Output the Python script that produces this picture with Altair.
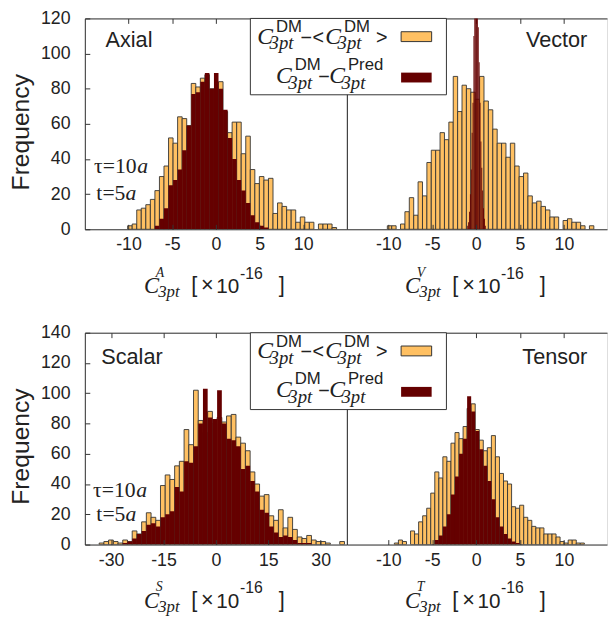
import altair as alt
import pandas as pd

# ---------------- data ----------------
# Axial
axial_orange_start, axial_orange_width = -10.1, 0.52
axial_orange = [2, 3, 11, 12, 14, 17, 22, 30, 36, 52, 49, 64, 63, 59, 83, 81, 86, 88, 80, 79,
                84, 67, 55, 61, 61, 43, 53, 34, 26, 30, 28, 29, 9, 15, 13, 11, 11, 4, 7, 4,
                4, 0, 3, 3, 3, 1]
axial_maroon_start, axial_maroon_width = -6.98, 0.52
axial_maroon = [2, 6, 12, 25, 28, 34, 45, 59, 77, 78, 84, 89, 80, 89, 80, 68, 52, 40, 28, 22,
                15, 8, 4, 2, 1]

# Vector
vector_orange_start, vector_orange_width = -10.1, 0.5
vector_orange = [2, 2, 0, 3, 10, 18, 8, 27, 19, 38, 45, 45, 55, 51, 61, 87, 67, 82, 80, 78,
                 74, 87, 73, 68, 57, 49, 49, 41, 49, 36, 30, 32, 19, 15, 16, 13, 11, 7, 7, 0,
                 5, 6, 4, 4, 2, 0, 2]
vector_maroon_start, vector_maroon_width = -1.0, 0.1
vector_maroon = [2, 4, 10, 20, 34, 55, 72, 110, 145, 175, 180, 160, 115, 95, 72, 50, 35, 22, 12, 6, 2]

# Scalar
scalar_orange_start, scalar_orange_width = -33.4, 1.35
scalar_orange = [1, 2, 3, 2, 1, 3, 2, 9, 7, 15, 21, 18, 16, 39, 46, 43, 52, 55, 76, 66,
                 102, 82, 74, 88, 80, 84, 81, 85, 86, 71, 67, 62, 48, 40, 32, 33, 19, 16, 23, 11,
                 18, 10, 5, 4, 6, 3, 2, 2, 1, 0, 0, 2]
scalar_maroon_start, scalar_maroon_width = -26.65, 1.35
scalar_maroon = [1, 2, 4, 7, 9, 13, 14, 12, 18, 20, 22, 38, 35, 55, 54, 65, 80, 103, 84, 83,
                 102, 80, 70, 69, 65, 50, 52, 42, 35, 23, 21, 12, 8, 5, 6, 5, 3, 1, 1, 1]

# Tensor
tensor_orange_start, tensor_orange_width = -9.3, 0.46
tensor_orange = [1, 3, 2, 0, 9, 7, 15, 19, 24, 34, 48, 44, 58, 55, 67, 74, 70, 78, 90, 93,
                 76, 69, 62, 64, 72, 58, 47, 42, 40, 25, 24, 26, 18, 16, 12, 11, 11, 7, 7, 7,
                 5, 2, 1, 3, 3, 1, 1]
tensor_maroon_start, tensor_maroon_width = -4.7, 0.46
tensor_maroon = [3, 6, 12, 20, 33, 45, 60, 70, 98, 88, 75, 63, 52, 42, 30, 18, 12, 7, 4, 2, 1]

ticks_small = [-10, -5, 0, 5, 10]
ticks_scalar = [-30, -15, 0, 15, 30]
yticks_top = [0, 20, 40, 60, 80, 100, 120]
yticks_bottom = [0, 20, 40, 60, 80, 100, 120, 140]

# ---------------- styling ----------------
INK = "#222222"
EDGE = "#333333"
ORANGE = "#ffc062"
MAROON = "#650000"
SANS = "Liberation Sans"
SERIF = "Liberation Serif"
LABEL_EXPR = "datum.value < 0 ? '-' + (-datum.value) : '' + datum.value"

one = pd.DataFrame({"k": [0]})


def bins(start, width, counts):
    rows = []
    for i, c in enumerate(counts):
        if c > 0:
            lo = start + i * width
            rows.append({"lo": lo, "hi": lo + width, "n": c})
    return pd.DataFrame(rows)


def txt(text, x, y, size, font=SANS, style="normal", align="left"):
    return alt.Chart(one).mark_text(
        text=text, font=font, fontSize=size, fontStyle=style, align=align,
        baseline="alphabetic", color=INK
    ).encode(x=alt.value(x), y=alt.value(y))


def xtitle(sup, W, base):
    cx = W / 2
    return [
        txt("C", cx - 73, base, 23, SERIF, "italic"),
        txt(sup, cx - 61, base - 17, 14, SERIF, "italic"),
        txt("3pt", cx - 58.5, base + 4, 17, SERIF, "italic"),
        txt("[", cx - 25, base - 1, 22),
        txt("\u00d7", cx - 15, base - 1, 22),
        txt("10", cx + 0.5, base, 21),
        txt("-16", cx + 24.4, base - 15, 16),
        txt("]", cx + 63.7, base - 1, 22),
    ]


def legend(box_h):
    L = [alt.Chart(one).mark_rect(fill="white", stroke=EDGE, strokeWidth=1).encode(
        x=alt.value(-98), x2=alt.value(101), y=alt.value(0), y2=alt.value(box_h))]
    # line 1 : C^DM_3pt - <C^DM_3pt>
    L += [txt("C", -91, 25.6, 24, SERIF, "italic"),
          txt("DM", -72, 14, 17),
          txt("3pt", -78.5, 31.5, 19, SERIF, "italic"),
          txt("\u2212", -47, 25.5, 20),
          txt("<", -35, 25.5, 20),
          txt("C", -22, 25.6, 24, SERIF, "italic"),
          txt("DM", -3, 14, 17),
          txt("3pt", -9.5, 31.5, 19, SERIF, "italic"),
          txt(">", 29.5, 25.5, 20)]
    # line 2 : C^DM_3pt - C^Pred_3pt
    L += [txt("C", -72, 65.6, 24, SERIF, "italic"),
          txt("DM", -53, 52.3, 17),
          txt("3pt", -59.5, 71.5, 19, SERIF, "italic"),
          txt("\u2212", -29, 65.3, 20),
          txt("C", -18, 65.6, 24, SERIF, "italic"),
          txt("Pred", 1, 52.3, 17),
          txt("3pt", -5.5, 71.5, 19, SERIF, "italic")]
    L += [alt.Chart(one).mark_rect(fill=ORANGE, stroke=EDGE, strokeWidth=1).encode(
              x=alt.value(55), x2=alt.value(86), y=alt.value(13.5), y2=alt.value(23.5)),
          alt.Chart(one).mark_rect(fill=MAROON).encode(
              x=alt.value(55), x2=alt.value(86), y=alt.value(55), y2=alt.value(65))]
    return L


def panel(o_start, o_w, o_counts, m_start, m_w, m_counts, xdom, xticks, ymax, yticks,
          W, H, left, name, name_x, name_y, sup, tau=None, leg_h=None):
    xs = alt.Scale(domain=xdom, nice=False, zero=False)
    ys = alt.Scale(domain=[0, ymax], nice=False, zero=True)
    odf = bins(o_start, o_w, o_counts)
    mdf = bins(m_start, m_w, m_counts)

    ax_bottom = alt.Axis(orient="bottom", values=xticks, ticks=False, labelPadding=7,
                         labelFont=SANS, labelFontSize=18, labelColor=INK, labelExpr=LABEL_EXPR,
                         labelFlush=False, labelOverlap=False, domain=True, domainColor=EDGE,
                         domainWidth=1, grid=False, title=None, zindex=1)
    ax_bticks = alt.Axis(orient="top", offset=-H, values=xticks, ticks=True, tickSize=5,
                         tickColor=EDGE, labels=False, domain=False, grid=False, title=None,
                         zindex=1)
    ax_top = alt.Axis(orient="bottom", offset=-H, values=xticks, ticks=True, tickSize=5,
                      tickColor=EDGE, labels=False, domain=True, domainColor=EDGE,
                      grid=False, title=None, zindex=1 if left else 0)
    if left:
        ay_lab = alt.Axis(orient="left", values=yticks, ticks=False, labelPadding=15,
                          labelFont=SANS, labelFontSize=18, labelColor=INK, domain=True,
                          domainColor=EDGE, grid=False, title="Frequency", titleFont=SANS,
                          titleFontSize=25, titleFontWeight="normal", titleColor=INK,
                          titleX=-65, titleY=115, titleAngle=270, titleAlign="center",
                          titleBaseline="middle", zindex=1)
        ay_ticks = alt.Axis(orient="right", offset=-W, values=yticks, ticks=True, tickSize=5,
                            tickColor=EDGE, labels=False, domain=False, grid=False,
                            title=None, zindex=1)
        ay_right = alt.Axis(orient="right", ticks=False, labels=False, domain=True,
                            domainColor=EDGE, grid=False, title=None, zindex=1)
    else:
        # shared divider drawn from the right panel, under its key box
        ay_lab = None
        ay_ticks = None
        ay_right = alt.Axis(orient="left", ticks=False, labels=False, domain=True,
                            domainColor=EDGE, domainWidth=1, grid=False, title=None, zindex=0)

    orange = alt.Chart(odf).mark_rect(fill=ORANGE, stroke=EDGE, strokeWidth=0.9, clip=True).encode(
        x=alt.X("lo:Q", scale=xs, axis=ax_bottom),
        x2="hi:Q",
        y=alt.Y("n:Q", scale=ys, axis=ay_lab),
        y2=alt.datum(0),
    )
    maroon = alt.Chart(mdf).mark_rect(fill=MAROON, clip=True).encode(
        x=alt.X("lo:Q", scale=xs, axis=ax_bticks),
        x2="hi:Q",
        y=alt.Y("n:Q", scale=ys, axis=ay_ticks),
        y2=alt.datum(0),
    )
    frame = alt.Chart(odf).mark_point(opacity=0).encode(
        x=alt.X("lo:Q", scale=xs, axis=ax_top),
        y=alt.Y("n:Q", scale=ys, axis=ay_right),
    )
    layers = [orange, maroon, frame]
    layers.append(txt(name, name_x, name_y, 22, SANS, "normal", "left" if left else "right"))
    if tau is not None:
        (x1, y1), (x2, y2) = tau
        layers += [txt("\u03c4=10", x1, y1, 22, SERIF), txt("a", x1 + 44, y1, 22, SERIF, "italic"),
                   txt("t=5", x2, y2, 22, SERIF), txt("a", x2 + 29.5, y2, 22, SERIF, "italic")]
    layers += xtitle(sup, W, 279)
    if leg_h is not None:
        layers += legend(leg_h)
    return alt.layer(*layers).properties(width=W, height=H).resolve_axis(
        x="independent", y="independent")


WL, WR = 266, 264
HT, HB = 214, 215

axial = panel(axial_orange_start, axial_orange_width, axial_orange,
              axial_maroon_start, axial_maroon_width, axial_maroon,
              [-15, 15], ticks_small, 120, yticks_top, WL, HT, True,
              "Axial", 21, 29.3, "A", tau=((9.3, 157.3), (11.7, 184)))
vector = panel(vector_orange_start, vector_orange_width, vector_orange,
               vector_maroon_start, vector_maroon_width, vector_maroon,
               [-14.7, 14.9], ticks_small, 120, yticks_top, WR, HT, False,
               "Vector", 244, 29.3, "V", leg_h=77.5)
scalar = panel(scalar_orange_start, scalar_orange_width, scalar_orange,
               scalar_maroon_start, scalar_maroon_width, scalar_maroon,
               [-37.5, 37.5], ticks_scalar, 140, yticks_bottom, WL, HB, True,
               "Scalar", 16.7, 31.7, "S", tau=((8.3, 166.7), (11.7, 191)))
tensor = panel(tensor_orange_start, tensor_orange_width, tensor_orange,
               tensor_maroon_start, tensor_maroon_width, tensor_maroon,
               [-14.7, 14.9], ticks_small, 140, yticks_bottom, WR, HB, False,
               "Tensor", 244, 31.7, "T", leg_h=78)

chart = alt.concat(axial, vector, scalar, tensor, columns=2,
                   spacing={"row": 105, "column": 0}, bounds="flush").properties(
    padding={"left": 0, "top": -4, "right": 0, "bottom": 0}
).configure_view(stroke=None).configure(background="white", font=SANS)

chart.save("out.html", embed_options={"renderer": "svg", "actions": False})
